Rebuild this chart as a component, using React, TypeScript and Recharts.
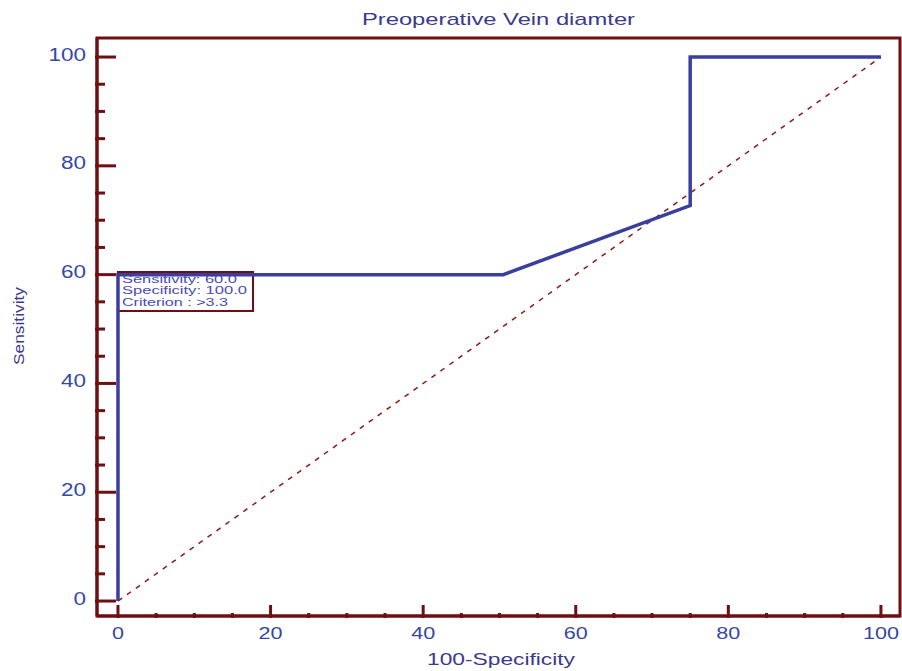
import React from "react";
import { LineChart, Line, XAxis, YAxis, ReferenceArea } from "recharts";

const rocFpr = [0, 0, 50.5, 75, 75, 100];
const rocTpr = [0, 60, 60, 72.7, 100, 100];
const diagX = [0, 100];
const diagY = [0, 100];
const xTicks = [0, 5, 10, 15, 20, 25, 30, 35, 40, 45, 50, 55, 60, 65, 70, 75, 80, 85, 90, 95, 100];
const yTicks = [0, 5, 10, 15, 20, 25, 30, 35, 40, 45, 50, 55, 60, 65, 70, 75, 80, 85, 90, 95, 100];
const boxLines = ["Sensitivity: 60.0", "Specificity: 100.0", "Criterion : >3.3"];
const boxLineWidths = [115, 125, 106];

const rocData = rocFpr.map((x, i) => ({ x, y: rocTpr[i] }));
const diagData = diagX.map((x, i) => ({ x, d: diagY[i] }));

const MAROON = "#6e0f12";
const BLUE = "#3a3f9e";
const TXT = "#3448a8";
const TITLE = "#3a3a8e";
const FONT = "Arial, 'Liberation Sans', sans-serif";

const XTick = (props: any) => {
  const { x, y, payload } = props;
  const major = payload.value % 20 === 0;
  const s = String(payload.value);
  return (
    <g>
      <line x1={x} x2={x} y1={y} y2={y - (major ? 13 : 5)} stroke={MAROON} strokeWidth={3} />
      {major && (
        <text
          x={x}
          y={y + 21}
          textAnchor="middle"
          fontSize={17}
          fill={TXT}
          fontFamily={FONT}
          textLength={12 * s.length}
          lengthAdjust="spacingAndGlyphs"
        >
          {s}
        </text>
      )}
    </g>
  );
};

const YTick = (props: any) => {
  const { x, y, payload } = props;
  const major = payload.value % 20 === 0;
  const s = String(payload.value);
  return (
    <g>
      <line x1={x} x2={x + (major ? 21 : 10)} y1={y} y2={y} stroke={MAROON} strokeWidth={3} />
      {major && (
        <text
          x={x - 9}
          y={y + 3.5}
          textAnchor="end"
          fontSize={18}
          fill={TXT}
          fontFamily={FONT}
          textLength={12.5 * s.length}
          lengthAdjust="spacingAndGlyphs"
        >
          {s}
        </text>
      )}
    </g>
  );
};

const BoxLabel = (props: any) => {
  const { viewBox } = props;
  const { x, y } = viewBox;
  return (
    <g>
      {boxLines.map((t, i) => (
        <text
          key={i}
          x={x + 4}
          y={y + 11 + i * 11.5}
          fontSize={10}
          fill="#4a4ab8"
          fontFamily={FONT}
          textLength={boxLineWidths[i]}
          lengthAdjust="spacingAndGlyphs"
        >
          {t}
        </text>
      ))}
    </g>
  );
};

export default function App() {
  return (
    <div style={{ position: "absolute", left: 0, top: 0, width: 902, height: 671, background: "#fff" }}>
      <LineChart
        width={902}
        height={671}
        data={rocData}
        margin={{ top: 38, right: 2, bottom: 0, left: 0 }}
      >
        <text
          x={498.5}
          y={25}
          textAnchor="middle"
          fontSize={17}
          fill={TITLE}
          fontFamily={FONT}
          textLength={273}
          lengthAdjust="spacingAndGlyphs"
        >
          Preoperative Vein diamter
        </text>
        <text
          x={501}
          y={665}
          textAnchor="middle"
          fontSize={17}
          fill={TITLE}
          fontFamily={FONT}
          textLength={148}
          lengthAdjust="spacingAndGlyphs"
        >
          100-Specificity
        </text>
        <text
          x={24}
          y={326}
          textAnchor="middle"
          fontSize={15}
          fill={TITLE}
          fontFamily={FONT}
          textLength={78}
          lengthAdjust="spacingAndGlyphs"
          transform="rotate(-90 24 326)"
        >
          Sensitivity
        </text>
        <XAxis
          type="number"
          dataKey="x"
          domain={[-2.75, 102.5]}
          ticks={xTicks}
          interval={0}
          allowDataOverflow
          axisLine={{ stroke: MAROON, strokeWidth: 3 }}
          tickLine={false}
          tickSize={0}
          tick={<XTick />}
          height={55}
        />
        <YAxis
          type="number"
          domain={[-2.75, 103.5]}
          ticks={yTicks}
          interval={0}
          allowDataOverflow
          axisLine={{ stroke: MAROON, strokeWidth: 3 }}
          tickLine={false}
          tickSize={0}
          tick={<YTick />}
          width={97}
        />
        <ReferenceArea
          x1={-2.75}
          x2={102.5}
          y1={-2.75}
          y2={103.5}
          fill="none"
          stroke={MAROON}
          strokeWidth={3}
          ifOverflow="visible"
        />
        <Line
          data={diagData}
          dataKey="d"
          type="linear"
          stroke="#8b1a1a"
          strokeWidth={1.5}
          strokeDasharray="5 6"
          dot={false}
          isAnimationActive={false}
        />
        <Line
          dataKey="y"
          type="linear"
          stroke={BLUE}
          strokeWidth={3.5}
          dot={false}
          isAnimationActive={false}
        />
        <ReferenceArea
          x1={0}
          x2={17.7}
          y1={53.3}
          y2={60.5}
          fill="#fff"
          fillOpacity={0}
          stroke={MAROON}
          strokeWidth={2}
          ifOverflow="visible"
          label={<BoxLabel />}
        />
      </LineChart>
    </div>
  );
}
